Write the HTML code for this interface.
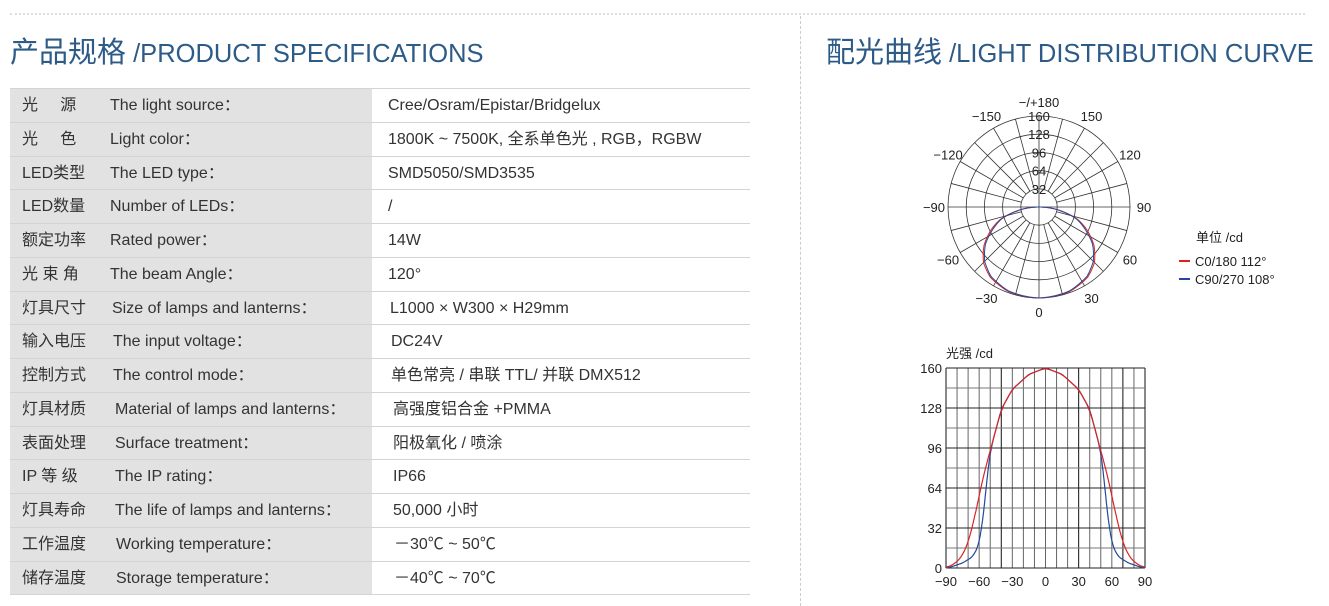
<!DOCTYPE html>
<html><head><meta charset="utf-8"><style>
body{margin:0;width:1329px;height:606px;background:#fff;position:relative;overflow:hidden;font-family:"Liberation Sans","Noto Sans CJK SC",sans-serif;color:#333}
.topline{position:absolute;left:10px;top:13px;width:1295px;border-top:2px dotted #ddd}
.vline{position:absolute;left:800px;top:16px;height:590px;border-left:1px dashed #ccc}
.title{position:absolute;top:29px;color:#2d5b88;font-size:25.5px;white-space:nowrap}
.title b{font-weight:normal;font-size:29px}
.gray{position:absolute;left:10px;top:88px;width:362px;height:506px;background:#e2e2e2}
.row{position:absolute;left:10px;width:740px;height:33.7px;border-top:1.4px solid #d4d4d4;font-size:16px;line-height:33.7px;white-space:nowrap}
.row span{position:absolute;top:0}
.a{left:12px}.b{left:100px}.c{left:378px}
</style></head><body>
<div class="topline"></div><div class="vline"></div>
<div class="title" style="left:10px"><b>产品规格</b> /PRODUCT SPECIFICATIONS</div>
<div class="title" style="left:826px"><b>配光曲线</b> /LIGHT DISTRIBUTION CURVE</div>
<div class="gray"></div>
<div id="tbl"></div>
<svg id="s" width="1329" height="606" style="position:absolute;left:0;top:0" font-family="Liberation Sans, Noto Sans CJK SC, sans-serif" font-size="13" fill="#222"></svg>
<script>
var rows=[
['光 &nbsp; &nbsp; 源','The light source：','Cree/Osram/Epistar/Bridgelux',0],
['光 &nbsp; &nbsp; 色','Light color：','1800K ~ 7500K, 全系单色光 , RGB，RGBW',0],
['LED类型','The LED type：','SMD5050/SMD3535',0],
['LED数量','Number of LEDs：','/',0],
['额定功率','Rated power：','14W',0],
['光 束 角','The beam Angle：','120°',0],
['灯具尺寸','Size of lamps and lanterns：','L1000 × W300 × H29mm',2],
['输入电压','The input voltage：','DC24V',3],
['控制方式','The control mode：','单色常亮 / 串联 TTL/ 并联 DMX512',3],
['灯具材质','Material of lamps and lanterns：','高强度铝合金 +PMMA',5],
['表面处理','Surface treatment：','阳极氧化 / 喷涂',5],
['IP 等 级','The IP rating：','IP66',5],
['灯具寿命','The life of lamps and lanterns：','50,000 小时',5],
['工作温度','Working temperature：','－30℃ ~ 50℃',6],
['储存温度','Storage temperature：','－40℃ ~ 70℃',6]];
var t='';rows.forEach(function(r,i){var y=88+i*33.75;t+='<div class="row" style="top:'+y+'px"><span class="a">'+r[0]+'</span><span class="b" style="left:'+(100+r[3])+'px">'+r[1]+'</span><span class="c" style="left:'+(378+r[3])+'px">'+r[2]+'</span></div>';});
t+='<div class="row" style="top:594px;height:0"></div>';
document.getElementById('tbl').innerHTML=t;
var s=document.getElementById('s'),h='';
var cx=1039,cy=207,R=91;
for(var i=1;i<=5;i++)h+='<circle cx="'+cx+'" cy="'+cy+'" r="'+(R*i/5)+'" fill="none" stroke="#333" stroke-width="0.8"/>';
for(var a=0;a<180;a+=15){var tt=a*Math.PI/180,r0=(a%90==0)?0:R/5;
h+='<line x1="'+(cx+r0*Math.cos(tt))+'" y1="'+(cy+r0*Math.sin(tt))+'" x2="'+(cx+R*Math.cos(tt))+'" y2="'+(cy+R*Math.sin(tt))+'" stroke="#333" stroke-width="0.8"/>';
h+='<line x1="'+(cx-r0*Math.cos(tt))+'" y1="'+(cy-r0*Math.sin(tt))+'" x2="'+(cx-R*Math.cos(tt))+'" y2="'+(cy-R*Math.sin(tt))+'" stroke="#333" stroke-width="0.8"/>';}
var lab=[[180,'−/+180'],[150,'150'],[120,'120'],[90,'90'],[60,'60'],[30,'30'],[0,'0'],[-30,'−30'],[-60,'−60'],[-90,'−90'],[-120,'−120'],[-150,'−150']];
lab.forEach(function(l){var tt=l[0]*Math.PI/180,rr=R+14;h+='<text x="'+(cx+rr*Math.sin(tt))+'" y="'+(cy+rr*Math.cos(tt)+5)+'" text-anchor="middle">'+l[1]+'</text>';});
[160,128,96,64,32].forEach(function(v,i){h+='<text x="'+cx+'" y="'+(cy-R*(5-i)/5+5)+'" text-anchor="middle">'+v+'</text>';});
function I(tb,a){a=Math.abs(a);for(var k=0;k<tb.length-1;k++){if(a<=tb[k+1][0]){var f=(a-tb[k][0])/(tb[k+1][0]-tb[k][0]);return tb[k][1]+f*(tb[k+1][1]-tb[k][1]);}}return 0;}
function polar(tb,col){var p='';for(var a=-90;a<=90;a+=1){var v=I(tb,a),tt=a*Math.PI/180;p+=(a==-90?'M':'L')+(cx+v*R/160*Math.sin(tt)).toFixed(1)+','+(cy+v*R/160*Math.cos(tt)).toFixed(1);}h+='<path d="'+p+'" fill="none" stroke="'+col+'" stroke-width="1"/>';}
var pr=[[0,160],[20,158],[35,150],[45,138],[55,118],[65,92],[72,72],[80,40],[90,0]];
var pb=[[0,160],[20,157],[35,148],[45,135],[55,115],[65,88],[72,70],[80,38],[90,0]];
polar(pr,'#d22');polar(pb,'#224a9a');
h+='<text x="1196" y="242">单位 /cd</text>';
h+='<line x1="1179" y1="261" x2="1190" y2="261" stroke="#d22" stroke-width="2"/><text x="1195" y="266">C0/180 112°</text>';
h+='<line x1="1179" y1="279" x2="1190" y2="279" stroke="#224a9a" stroke-width="2"/><text x="1195" y="284">C90/270 108°</text>';
var x0=946,x1=1145,y0=368,y1=568;
for(var k=0;k<=18;k++){var x=x0+(x1-x0)*k/18;var dk=(k==0||k==18||k==5||k==12||k==16);h+='<line x1="'+x+'" y1="'+y0+'" x2="'+x+'" y2="'+y1+'" stroke="'+(dk?'#111':'#666')+'" stroke-width="1"/>';}
for(var k=0;k<=10;k++){var y=y0+(y1-y0)*k/10;h+='<line x1="'+x0+'" y1="'+y+'" x2="'+x1+'" y2="'+y+'" stroke="'+(k%2==0?'#222':'#777')+'" stroke-width="1"/>';}
[160,128,96,64,32,0].forEach(function(v){var y=y1-v/160*200;h+='<text x="942" y="'+(y+5)+'" text-anchor="end">'+v+'</text>';});
[-90,-60,-30,0,30,60,90].forEach(function(v){h+='<text x="'+(x0+(v+90)/180*199)+'" y="586" text-anchor="middle">'+(v<0?'−'+(-v):v)+'</text>';});
h+='<text x="946" y="358">光强 /cd</text>';
var red=[[0,160],[15,155],[30,143],[40,127],[49,97],[55,78],[59,62],[65,37],[70,20],[75,10],[80,5],[85,2],[90,0]];
var blue=[[0,160],[15,155],[30,143],[40,127],[49,97],[52,80],[55,52],[57.5,33],[61,17],[66,9],[75,4],[85,1],[90,0]];
function smooth(tb,w){var vals=[];for(var a=-90;a<=90;a+=0.5){var sum=0,n=0;for(var d=-w;d<=w;d+=0.5){var b=a+d;if(b<-90||b>90)continue;sum+=I(tb,b);n++;}vals.push([a,sum/n]);}return vals;}
function cart(tb,w,col){var v=smooth(tb,w),p='';v.forEach(function(q,i){p+=(i==0?'M':'L')+(x0+(q[0]+90)/180*199).toFixed(1)+','+(y1-q[1]/160*200).toFixed(1);});h+='<path d="'+p+'" fill="none" stroke="'+col+'" stroke-width="1.2" stroke-linejoin="round"/>';}
cart(blue,2,'#224a9a');cart(red,4,'#d22');
s.innerHTML=h;
</script>
</body></html>
